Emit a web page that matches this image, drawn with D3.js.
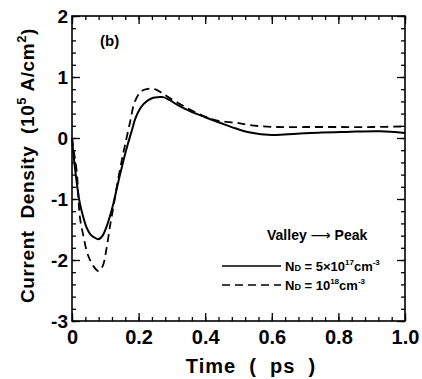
<!DOCTYPE html>
<html>
<head>
<meta charset="utf-8">
<script src="https://cdn.jsdelivr.net/npm/d3@7"></script>
<style>
  body { margin: 0; background: #fff; }
  svg { font-family: "Liberation Sans", Arial, sans-serif; font-weight: bold; }
  .axis path.domain { display: none; }
  .axis line { stroke: #000; stroke-width: 1.3; }
  .axis text { font-size: 19px; fill: #000; font-weight: bold; }
</style>
</head>
<body>
<div id="chart"></div>
<script>
// N_D = 5x10^17 cm^-3 (solid)
const solidT = [0, 0.005, 0.01, 0.017, 0.024, 0.034, 0.044, 0.054, 0.064, 0.079, 0.092, 0.104, 0.114, 0.124,
  0.139, 0.154, 0.166, 0.179, 0.189, 0.2, 0.214, 0.229, 0.244, 0.259, 0.274, 0.294, 0.314, 0.354, 0.4,
  0.444, 0.49, 0.535, 0.6, 0.675, 0.75, 0.825, 0.925, 1.0];
const solidV = [0, -0.3, -0.54, -0.85, -1.08, -1.3, -1.47, -1.57, -1.62, -1.66, -1.6, -1.45, -1.28, -1.08,
  -0.72, -0.38, -0.13, 0.11, 0.3, 0.44, 0.55, 0.62, 0.66, 0.67, 0.67, 0.62, 0.55, 0.44, 0.34,
  0.25, 0.16, 0.09, 0.05, 0.07, 0.09, 0.1, 0.11, 0.08];

// N_D = 10^18 cm^-3 (dashed)
const dashedT = [0, 0.005, 0.014, 0.024, 0.034, 0.044, 0.054, 0.064, 0.079, 0.092, 0.104, 0.114, 0.124,
  0.136, 0.149, 0.159, 0.174, 0.189, 0.209, 0.224, 0.239, 0.254, 0.269, 0.289, 0.32, 0.36, 0.4, 0.44,
  0.495, 0.535, 0.615, 0.7, 0.8, 0.9, 1.0];
const dashedV = [0, -0.2, -0.54, -1.31, -1.6, -1.85, -2.0, -2.1, -2.18, -2.1, -1.8, -1.45, -1.14,
  -0.75, -0.38, -0.12, 0.25, 0.6, 0.77, 0.8, 0.81, 0.79, 0.74, 0.67, 0.57, 0.45, 0.35, 0.28,
  0.25, 0.21, 0.18, 0.18, 0.18, 0.18, 0.19];

const xTicks = [0, 0.2, 0.4, 0.6, 0.8, 1.0];
const yTicks = [-3, -2, -1, 0, 1, 2];

const W = 422, H = 379;
const margin = { top: 16, right: 17, bottom: 58, left: 72 };
const pw = W - margin.left - margin.right;
const ph = H - margin.top - margin.bottom;

const svg = d3.select("#chart").append("svg").attr("width", W).attr("height", H);
const g = svg.append("g").attr("transform", `translate(${margin.left},${margin.top})`);

const x = d3.scaleLinear().domain([0, 1]).range([0, pw]);
const y = d3.scaleLinear().domain([-3, 2]).range([ph, 0]);

const xMinor = d3.range(0, 1.0001, 0.04);
const yMinor = d3.range(-3, 2.0001, 0.2);
const fmtX = d => d === 0 ? "0" : d.toFixed(1);
const fmtY = d => d < 0 ? "-" + Math.abs(d) : String(d);

// bottom
g.append("g").attr("class", "axis").attr("transform", `translate(0,${ph})`)
  .call(d3.axisBottom(x).tickValues(xMinor).tickSize(-4).tickFormat(""));
g.append("g").attr("class", "axis").attr("transform", `translate(0,${ph})`)
  .call(d3.axisBottom(x).tickValues(xTicks).tickSize(-8).tickPadding(9).tickFormat(fmtX))
  .selectAll("text").style("font-size", "20px");
// top
g.append("g").attr("class", "axis")
  .call(d3.axisTop(x).tickValues(xMinor).tickSize(-4).tickFormat(""));
g.append("g").attr("class", "axis")
  .call(d3.axisTop(x).tickValues(xTicks).tickSize(-8).tickFormat(""));
// left
g.append("g").attr("class", "axis")
  .call(d3.axisLeft(y).tickValues(yMinor).tickSize(-4).tickFormat(""));
g.append("g").attr("class", "axis")
  .call(d3.axisLeft(y).tickValues(yTicks).tickSize(-8).tickPadding(4).tickFormat(fmtY));
// right
g.append("g").attr("class", "axis").attr("transform", `translate(${pw},0)`)
  .call(d3.axisRight(y).tickValues(yMinor).tickSize(-4).tickFormat(""));
g.append("g").attr("class", "axis").attr("transform", `translate(${pw},0)`)
  .call(d3.axisRight(y).tickValues(yTicks).tickSize(-8).tickFormat(""));

g.append("rect")
  .attr("width", pw).attr("height", ph)
  .attr("fill", "none").attr("stroke", "#000").attr("stroke-width", 1.6);

const line = d3.line()
  .x(d => x(d[0]))
  .y(d => y(d[1]))
  .curve(d3.curveCatmullRom.alpha(0.5));

g.append("path")
  .datum(d3.zip(solidT, solidV))
  .attr("d", line)
  .attr("fill", "none").attr("stroke", "#000").attr("stroke-width", 2);

g.append("path")
  .datum(d3.zip(dashedT, dashedV))
  .attr("d", line)
  .attr("fill", "none").attr("stroke", "#000").attr("stroke-width", 1.8)
  .attr("stroke-dasharray", "8,5");

// panel tag
svg.append("text").attr("x", 100).attr("y", 46).style("font-size", "15px").text("(b)");

// axis titles
svg.append("text")
  .attr("x", 251).attr("y", 373)
  .attr("text-anchor", "middle")
  .style("font-size", "20px")
  .style("letter-spacing", "1px")
  .style("white-space", "pre")
  .text("Time  (  ps  )");

const yl = svg.append("text")
  .attr("transform", `translate(34,${margin.top + ph / 2 - 3}) rotate(-90)`)
  .attr("text-anchor", "middle")
  .style("font-size", "19px")
  .style("letter-spacing", "0.6px")
  .style("white-space", "pre");
yl.append("tspan").text("Current  Density  (10");
yl.append("tspan").attr("dy", -8).style("font-size", "13px").text("5");
yl.append("tspan").attr("dy", 8).text(" A/cm");
yl.append("tspan").attr("dy", -8).style("font-size", "13px").text("2");
yl.append("tspan").attr("dy", 8).text(")");

// legend
const vp = svg.append("text").attr("x", 267).attr("y", 240).style("font-size", "14px")
  .style("white-space", "pre");
vp.append("tspan").text("Valley ");
vp.append("tspan").style("font-family", "DejaVu Sans").style("font-weight", "normal").text("\u27F6");
vp.append("tspan").text(" Peak");

const legend = [
  { y: 266, dash: null, w: 1.4, pre: " = 5\u00d710", exp1: "17" },
  { y: 285, dash: "8,5", w: 1.5, pre: " = 10", exp1: "18" }
];
legend.forEach(d => {
  svg.append("line")
    .attr("x1", 222).attr("x2", 281).attr("y1", d.y).attr("y2", d.y)
    .attr("stroke", "#000").attr("stroke-width", d.w)
    .attr("stroke-dasharray", d.dash);
  const t = svg.append("text").attr("x", 285).attr("y", d.y + 5).style("font-size", "13px")
    .style("white-space", "pre");
  t.append("tspan").text("N");
  t.append("tspan").style("font-size", "9px").text("D");
  t.append("tspan").text(d.pre);
  t.append("tspan").attr("dy", -6).style("font-size", "8px").text(d.exp1);
  t.append("tspan").attr("dy", 6).text("cm");
  t.append("tspan").attr("dy", -6).style("font-size", "8px").text("-3");
});
</script>
</body>
</html>
